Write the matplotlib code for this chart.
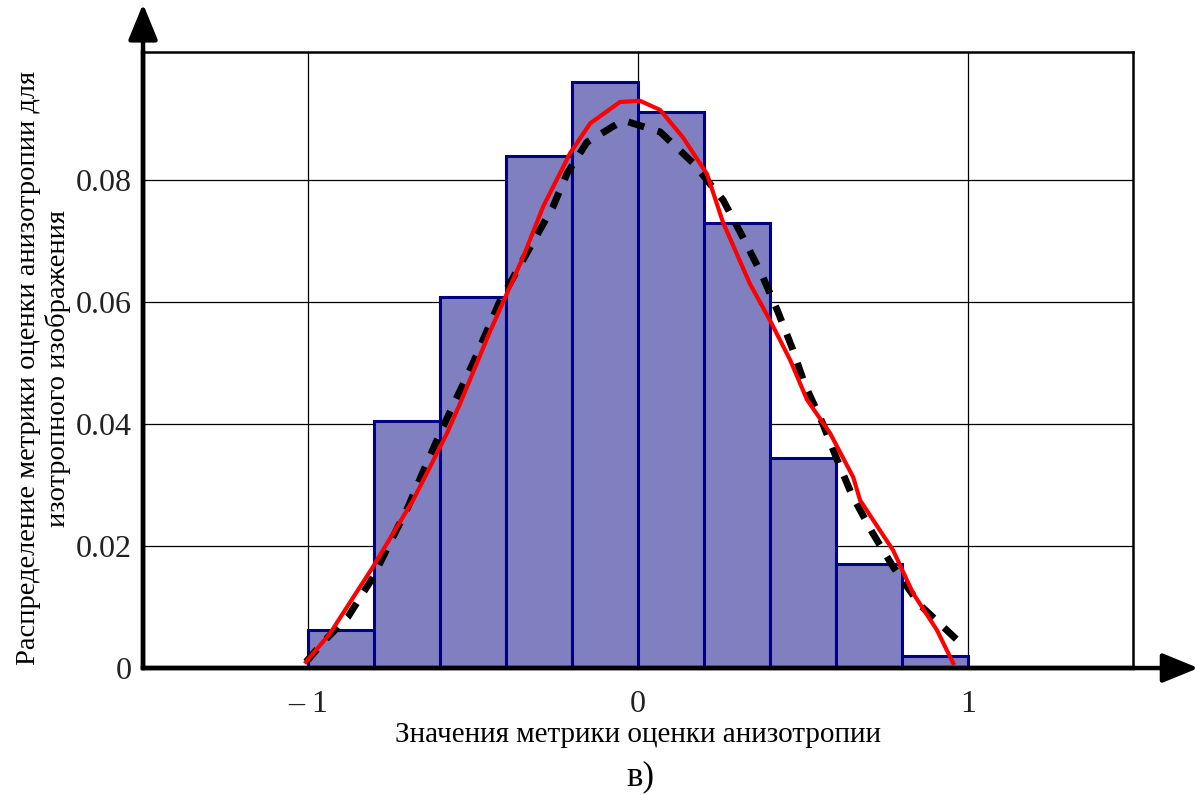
import matplotlib.pyplot as plt
import numpy as np

# histogram of the anisotropy metric (bin edges and relative frequencies)
bin_edges = [-1.0, -0.8, -0.6, -0.4, -0.2, 0.0, 0.2, 0.4, 0.6, 0.8, 1.0]
bin_heights = [0.0062, 0.0405, 0.0608, 0.0840, 0.0961, 0.0912, 0.0730, 0.0345, 0.0170, 0.0020]

# theoretical density (black dashed)
theory_x = [-1.006, -0.95, -0.879, -0.803, -0.752, -0.697, -0.652, -0.6, -0.5, -0.42,
            -0.327, -0.258, -0.215, -0.155, -0.045, 0.067, 0.167, 0.258, 0.318, 0.376,
            0.424, 0.467, 0.506, 0.558, 0.603, 0.648, 0.709, 0.773, 0.855, 0.967, 0.994]
theory_y = [0.001, 0.0045, 0.0084, 0.0149, 0.0205, 0.0264, 0.0321, 0.0385, 0.0500, 0.0600,
            0.0690, 0.0756, 0.0811, 0.0862, 0.0898, 0.0879, 0.0828, 0.0767, 0.0706, 0.0644,
            0.0584, 0.0525, 0.0464, 0.0403, 0.0342, 0.0284, 0.0223, 0.0166, 0.0103, 0.0046, 0.0038]

# empirical density estimate (red)
empirical_x = [-1.006, -0.933, -0.882, -0.803, -0.742, -0.682, -0.630, -0.579, -0.539, -0.45,
               -0.348, -0.288, -0.206, -0.145, -0.055, 0.006, 0.067, 0.136, 0.209, 0.258,
               0.339, 0.400, 0.461, 0.512, 0.582, 0.652, 0.673, 0.773, 0.833, 0.906, 0.955]
empirical_y = [0.001, 0.0057, 0.0100, 0.0166, 0.0221, 0.0275, 0.0330, 0.0385, 0.0434, 0.0550,
               0.0674, 0.0756, 0.0844, 0.0893, 0.0928, 0.0930, 0.0915, 0.0870, 0.0810, 0.0730,
               0.0630, 0.0570, 0.0505, 0.0440, 0.0385, 0.0313, 0.0275, 0.0193, 0.0123, 0.0062, 0.0008]

x_ticks = [-1, 0, 1]
x_tick_labels = ['\u2013 1', '0', '1']
y_ticks = [0, 0.02, 0.04, 0.06, 0.08]
y_tick_labels = ['0', '0.02', '0.04', '0.06', '0.08']

serif = ['Liberation Serif', 'DejaVu Serif']

fig = plt.figure(figsize=(12.01, 7.95), dpi=100)
ax = fig.add_axes([0.1191, 0.1597, 0.8243, 0.7749])

edges = np.array(bin_edges)
ax.bar(edges[:-1], bin_heights, width=np.diff(edges), align='edge',
       color='#8080C0', edgecolor='#000080', linewidth=2.2, zorder=2)

ax.plot(theory_x, theory_y, color='black', linewidth=5, linestyle=(0, (2.4, 2.0)), zorder=3)
ax.plot(empirical_x, empirical_y, color='#FF0000', linewidth=3, zorder=4)

ax.set_xlim(-1.5, 1.5)
ax.set_ylim(0, 0.101)
ax.set_xticks(x_ticks)
ax.set_xticklabels(x_tick_labels, family=serif, fontsize=23, color='#222222')
ax.set_yticks(y_ticks)
ax.set_yticklabels(y_tick_labels, family=serif, fontsize=23, color='#222222')
ax.tick_params(length=0)
ax.tick_params(axis='x', pad=16)
ax.tick_params(axis='y', pad=8)
ax.grid(True, color='black', linewidth=0.9, zorder=0)
ax.set_axisbelow(True)

for side in ['top', 'right']:
    ax.spines[side].set_linewidth(1.8)
for side in ['left', 'bottom']:
    ax.spines[side].set_linewidth(3.2)

# axis arrows (Mathcad style)
arrow = dict(arrowstyle='-|>,head_length=1.1,head_width=0.45', color='black',
             linewidth=3.2, shrinkA=0, shrinkB=0, mutation_scale=20)
ax.annotate('', xy=(0, 1.078), xytext=(0, 0), xycoords='axes fraction',
            arrowprops=arrow, annotation_clip=False)
ax.annotate('', xy=(1.066, 0), xytext=(0, 0), xycoords='axes fraction',
            arrowprops=arrow, annotation_clip=False)

ax.set_xlabel('Значения метрики оценки анизотропии', family=serif, fontsize=21, labelpad=2)
fig.text(0.036, 0.537, 'Распределение метрики оценки анизотропии для\nизотропного изображения',
         family=serif, fontsize=20.5, rotation=90, ha='center', va='center',
         multialignment='center', linespacing=1.2)
fig.text(0.533, 0.012, 'в)', family=serif, fontsize=25, ha='center')

fig.savefig('out.png', dpi=100)
